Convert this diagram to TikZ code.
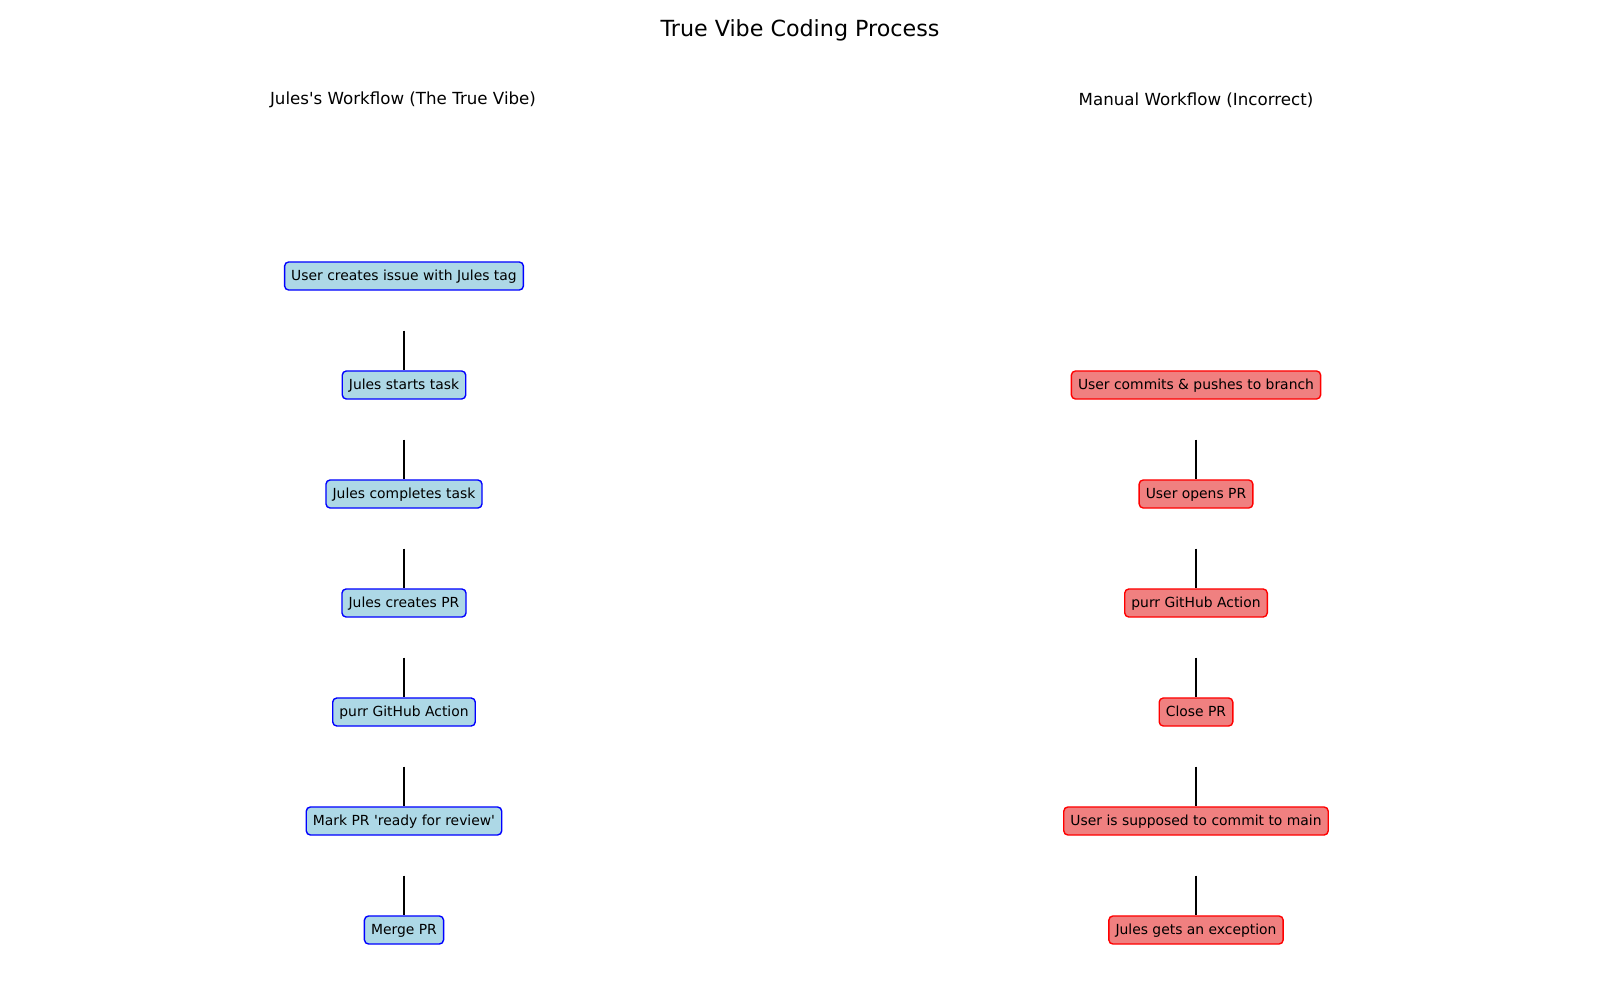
\documentclass[tikz,border=0pt]{standalone}
\usepackage{fontspec}
\setmainfont{DejaVu Sans}
\newfontfamily\dvplain{DejaVu Sans}
\usetikzlibrary{calc}
\definecolor{lblue}{HTML}{ADD8E6}
\definecolor{lcoral}{HTML}{F08080}
\tikzset{
  stepbase/.style={rectangle, rounded corners=3pt, line width=1pt, font=\dvplain\fontsize{10}{12}\selectfont,
    text height=8.2pt, text depth=1.6pt, inner xsep=4.8pt, inner ysep=5.2pt, text=black},
  jbox/.style={stepbase, draw=blue, fill=lblue},
  mbox/.style={stepbase, draw=red, fill=lcoral},
  conn/.style={line width=1.5pt, black},
  subt/.style={font=\dvplain\fontsize{12}{14}\selectfont},
}
\begin{document}
\begin{tikzpicture}[x=0.72pt, y=-0.72pt]
\path[use as bounding box] (0,0) rectangle (1600,1000);
\node[font=\dvplain\fontsize{16}{19}\selectfont] (title) at (800,30.5) {True Vibe Coding Process};
\node[subt] (lt) at (403,100) {Jules's Workflow (The True Vibe)};
\node[subt] (rt) at (1196,100) {Manual Workflow (Incorrect)};

\node[jbox] (l1) at (404,276) {User creates issue with Jules tag};
\node[jbox] (l2) at (404,385) {Jules starts task};
\node[jbox] (l3) at (404,494) {Jules completes task};
\node[jbox] (l4) at (404,603) {Jules creates PR};
\node[jbox] (l5) at (404,712) {purr GitHub Action};
\node[jbox] (l6) at (404,821) {Mark PR 'ready for review'};
\node[jbox] (l7) at (404,930) {Merge PR};

\node[mbox] (r1) at (1196,385) {User commits \& pushes to branch};
\node[mbox] (r2) at (1196,494) {User opens PR};
\node[mbox] (r3) at (1196,603) {purr GitHub Action};
\node[mbox] (r4) at (1196,712) {Close PR};
\node[mbox] (r5) at (1196,821) {User is supposed to commit to main};
\node[mbox] (r6) at (1196,930) {Jules gets an exception};

\foreach \a/\b in {l1/l2,l2/l3,l3/l4,l4/l5,l5/l6,l6/l7,r1/r2,r2/r3,r3/r4,r4/r5,r5/r6}{
  \draw[conn] ($(\a.center)!0.5!(\b.center)$) -- (\b.north);
}
\end{tikzpicture}
\end{document}
